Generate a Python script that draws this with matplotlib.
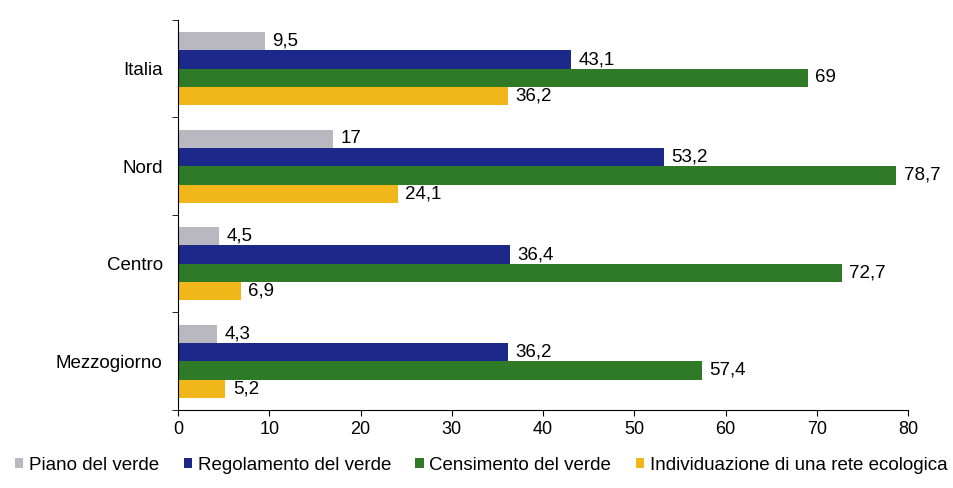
import numpy as np
import matplotlib.pyplot as plt

plt.rcParams['font.family'] = ['Liberation Sans', 'DejaVu Sans']

aree = ['Italia', 'Nord', 'Centro', 'Mezzogiorno']
piano = [9.5, 17, 4.5, 4.3]
regolamento = [43.1, 53.2, 36.4, 36.2]
censimento = [69, 78.7, 72.7, 57.4]
rete = [36.2, 24.1, 6.9, 5.2]

serie = ['Piano del verde', 'Regolamento del verde', 'Censimento del verde',
         'Individuazione di una rete ecologica']
colori = ['#b9b8c0', '#1c288a', '#2e7a26', '#f1b619']

fig = plt.figure(figsize=(9.54, 4.88), dpi=100)
ax = fig.add_axes([0.1866, 0.160, 0.7654, 0.799])

y = np.arange(len(aree))[::-1].astype(float)
h = 0.188
valori = [piano, regolamento, censimento, rete]
for i, (vals, col, nome) in enumerate(zip(valori, colori, serie)):
    pos = y + (1.5 - i) * h
    ax.barh(pos, vals, height=h, color=col, label=nome)
    for p, v in zip(pos, vals):
        ax.text(v + 0.8, p, f'{v:g}'.replace('.', ','), va='center',
                ha='left', fontsize=13.5)

ax.set_xlim(0, 80)
ax.set_ylim(-0.5, 3.5)
ax.set_xticks(range(0, 81, 10))
ax.set_yticks(y)
ax.set_yticklabels(aree)
ax.set_yticks(np.arange(-0.5, 3.6, 1), minor=True)
ax.tick_params(axis='y', which='major', length=0, pad=11, labelsize=13.5)
ax.tick_params(axis='y', which='minor', length=4, direction='out')
ax.tick_params(axis='x', length=4, direction='out', labelsize=13, pad=4)
ax.spines['top'].set_visible(False)
ax.spines['right'].set_visible(False)

fig.legend(loc='lower left', bbox_to_anchor=(-0.002, -0.005), ncol=4, frameon=False,
           fontsize=13.5, handlelength=0.45, handleheight=0.45, handletextpad=0.3,
           columnspacing=1.3)

fig.savefig('out.png', dpi=100)
